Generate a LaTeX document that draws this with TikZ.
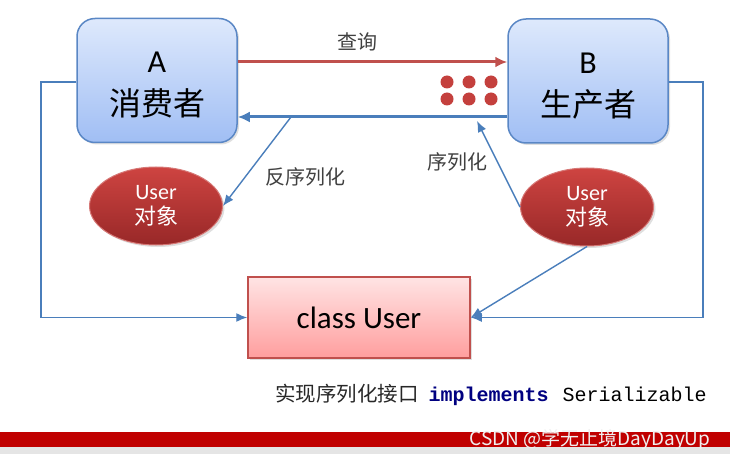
\documentclass[tikz,border=0pt]{standalone}
\usepackage{fontspec}
\setmainfont{Carlito}
\newfontfamily\cjk{Noto Sans CJK SC}
\newfontfamily\mono{Liberation Mono}
\usetikzlibrary{arrows.meta,shadows,shapes.geometric}
\definecolor{boxborder}{RGB}{90,135,197}
\definecolor{boxtop}{RGB}{222,233,252}
\definecolor{boxbottom}{RGB}{160,190,244}
\definecolor{redline}{RGB}{192,80,77}
\definecolor{blueline}{RGB}{74,126,187}
\definecolor{elltop}{RGB}{206,68,65}
\definecolor{ellbottom}{RGB}{152,40,40}
\definecolor{ellborder}{RGB}{214,120,118}
\definecolor{clstop}{RGB}{255,228,228}
\definecolor{clsbottom}{RGB}{255,158,158}
\definecolor{dotred}{RGB}{196,64,61}
\definecolor{labelgray}{RGB}{64,64,64}
\definecolor{navyblue}{RGB}{0,0,128}
\definecolor{barred}{RGB}{192,0,0}
\newcommand{\twolines}[2]{\raisebox{-5pt}[\height][\depth]{\begin{tabular}{@{}c@{}}#1\\#2\end{tabular}}}
\tikzset{
  pbox/.style={rounded corners=18pt, draw=boxborder, line width=1.5pt,
    top color=boxtop, bottom color=boxbottom, minimum width=160pt,
    minimum height=124pt, align=center, font=\fontsize{32}{43}\selectfont,
    drop shadow={opacity=0.25, shadow xshift=2pt, shadow yshift=-2pt}},
  uobj/.style={ellipse, draw=ellborder, line width=1pt, top color=elltop,
    bottom color=ellbottom, minimum width=133pt, minimum height=78pt,
    align=center, text=white, font=\fontsize{22}{25}\selectfont,
    drop shadow={opacity=0.25, shadow xshift=2pt, shadow yshift=-2pt}},
  clsbox/.style={draw=redline, line width=1.5pt, top color=clstop,
    bottom color=clsbottom, minimum width=222pt, minimum height=81pt,
    font=\fontsize{31}{36}\selectfont,
    drop shadow={opacity=0.25, shadow xshift=2pt, shadow yshift=-2pt}},
  thickred/.style={line width=3pt, draw=redline, -{Latex[length=12pt,width=11pt]}},
  thickblue/.style={line width=3pt, draw=blueline, -{Latex[length=12pt,width=11pt]}},
  thinblue/.style={line width=1.4pt, draw=blueline, -{Latex[length=11pt,width=9pt]}},
  lbl/.style={text=labelgray, font=\fontsize{20}{24}\selectfont\cjk}
}
\begin{document}
\begin{tikzpicture}[x=1pt,y=-1pt]
\useasboundingbox (0,0) rectangle (730,454);
% bottom bar
\fill[barred] (0,432) rectangle (730,447);
\fill[black!10] (0,447) rectangle (730,454);
\node[anchor=east, text=white!88!gray, font=\fontsize{19}{21}\selectfont\cjk] (wm) at (714,440) {CSDN @学无止境DayDayUp};

% boxes
\node[pbox] (A) at (157,80.5) {\twolines{A}{\cjk 消费者}};
\node[pbox] (B) at (588,81) {\twolines{B}{\cjk 生产者}};
\node[clsbox] (C) at (359,317.5) {class User};
\node[uobj] (u1) at (156,206) {User\\{\cjk 对象}};
\node[uobj] (u2) at (587,207) {User\\{\cjk 对象}};

% dots
\foreach \x in {447,469,491} \foreach \y in {82,99} \fill[dotred] (\x,\y) circle (6.5pt);

% main arrows
\draw[thickred] (A.east |- 0,62) -- (B.west |- 0,62);
\node[lbl] (q) at (357,42) {查询};
\draw[thickblue] (B.west |- 0,117) -- (A.east |- 0,117);

% (de)serialization
\coordinate (d1) at (291,117);
\draw[thinblue] (d1) -- (u1.east);
\node[lbl] (l1) at (305,177) {反序列化};
\coordinate (s1) at (477,121);
\draw[thinblue] (u2.west) -- (s1);
\node[lbl] (l2) at (457,162) {序列化};
\draw[thinblue] (u2.south) -- (C.east);

% outer connectors
\coordinate (la) at (41,82);
\coordinate (lb) at (41,317.5);
\draw[thinblue] (A.west |- 0,82) -- (la) -- (lb) -- (C.west);
\coordinate (ra) at (703,82);
\coordinate (rb) at (703,317.5);
\draw[thinblue] (B.east |- 0,82) -- (ra) -- (rb) -- (C.east);

% bottom text
\node[anchor=west, inner sep=0pt, font=\fontsize{20}{24}\selectfont] (impl) at (275,395)
  {{\cjk\fontsize{20.5}{24}\selectfont\color{labelgray!60!black}实现序列化接口}\hspace{10pt}{\mono\bfseries\color{navyblue}implements}\hspace{14pt}{\mono Serializable}};
\end{tikzpicture}
\end{document}
